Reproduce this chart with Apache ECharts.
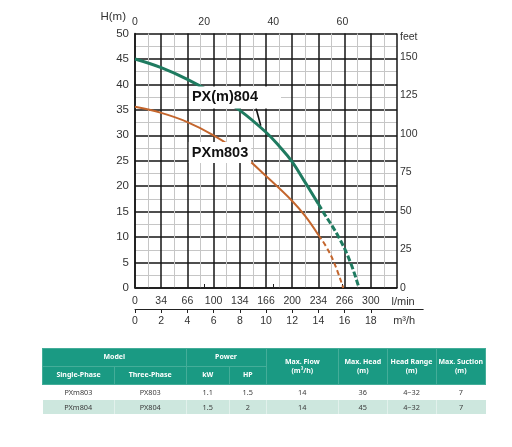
<!DOCTYPE html>
<html><head><meta charset="utf-8">
<script src="https://cdn.jsdelivr.net/npm/echarts@6/dist/echarts.min.js"></script>
<style>
html,body{margin:0;padding:0;background:#fff;width:512px;height:447px;overflow:hidden}
#c{position:absolute;left:0;top:0;width:512px;height:447px}
table{position:absolute;left:42px;top:348px;width:443px;border-collapse:collapse;table-layout:fixed;font-family:'Noto Sans',sans-serif}
th{background:#1a9a83;color:#fff;font-weight:700;font-size:7px;line-height:8.5px;padding:0;border:1px solid #44ad99;text-align:center}
td{font-size:7.3px;color:#3a3a3a;text-align:center;padding:0}
tr.r2 td{background:#cde7de;border-left:1px solid #e2f1ec}
tr.r2 td:first-child{border-left:none}
</style></head>
<body>
<div id="c"></div>
<table>
<colgroup><col style="width:72px"><col style="width:71.5px"><col style="width:43.5px"><col style="width:36.5px"><col style="width:72.5px"><col style="width:48.5px"><col style="width:49px"><col style="width:49.5px"></colgroup>
<tr style="height:18px"><th colspan="2">Model</th><th colspan="2">Power</th><th rowspan="2">Max. Flow<br>(m³/h)</th><th rowspan="2">Max. Head<br>(m)</th><th rowspan="2">Head Range<br>(m)</th><th rowspan="2">Max. Suction<br>(m)</th></tr>
<tr style="height:18px"><th>Single-Phase</th><th>Three-Phase</th><th>kW</th><th>HP</th></tr>
<tr style="height:15px"><td>PXm803</td><td>PX803</td><td>1.1</td><td>1.5</td><td>14</td><td>36</td><td>4~32</td><td>7</td></tr>
<tr class="r2" style="height:14px"><td>PXm804</td><td>PX804</td><td>1.5</td><td>2</td><td>14</td><td>45</td><td>4~32</td><td>7</td></tr>
</table>
<script>
// Flow in m3/h, head in m
const greenSolidQ = [0,2,4,6,8,10,11,12,13,14];
const greenSolidH = [45,43.3,41.0,38.2,34.9,30.6,27.9,24.8,20.7,16.5];
const greenDashQ = [14,14.4,15.55,16.45,17.1];
const greenDashH = [16.5,14.8,10,5,0];
const orangeSolidQ = [0,2,4,6,8,10,12,13,14];
const orangeSolidH = [35.6,34.4,32.6,30.0,26.6,22.0,17.1,14.1,10.4];
const orangeDashQ = [14,14.6,15.2,15.9];
const orangeDashH = [10.4,8.1,5,0];
const lpmLabels = ['0','34','66','100','134','166','200','234','266','300'];
const m3hTicks = [0,2,4,6,8,10,12,14,16,18];
const gpmTicks = [0,20,40,60];
const feetTicks = [0,25,50,75,100,125,150];
const feetUnitAt = 162.5;
const seriesNames = ['PX(m)804','PXm803'];

const pairs = (q,h) => q.map((v,i)=>[v,h[i]]);
const GREEN = '#1f7b60', ORANGE = '#c4662d';
const FONT = 'Liberation Sans';
const lab = {fontFamily:FONT,fontSize:10.5,color:'#333'};
const heavy = {color:'#151515',width:1.5};
const light = {color:'#c6c6c6',width:1};

const chart = echarts.init(document.getElementById('c'));
chart.setOption({
  animation:false,
  backgroundColor:'#fff',
  grid:[
    {left:135,top:33.5,width:262,height:254.5},
    {left:135,top:280,width:288.2,height:29}
  ],
  xAxis:[
    {gridIndex:0,type:'value',position:'bottom',min:0,max:20,interval:2,
     axisLine:{show:true,lineStyle:heavy},axisTick:{show:false},
     minorTick:{show:false,splitNumber:2},
     splitLine:{show:true,lineStyle:heavy},
     minorSplitLine:{show:true,lineStyle:light},
     axisLabel:Object.assign({},lab,{margin:8,formatter:v=>{const i=Math.round(v/2);return (i<lpmLabels.length)?lpmLabels[i]:'';}}),
     name:'l/min',nameLocation:'end',nameGap:-5.5,nameMoveOverlap:false,
     nameTextStyle:{fontFamily:FONT,fontSize:11,color:'#333',align:'left',verticalAlign:'top',padding:[8,0,0,0]}},
    {gridIndex:0,type:'value',position:'top',min:0,max:75.8,interval:20,
     axisLine:{show:false},
     axisTick:{show:true,length:4,lineStyle:{color:'#222',width:1},customValues:gpmTicks},
     splitLine:{show:false},
     axisLabel:Object.assign({},lab,{margin:6,customValues:gpmTicks})},
    {gridIndex:1,type:'value',position:'bottom',min:0,max:22,interval:2,
     axisLine:{show:true,lineStyle:{color:'#222',width:1}},
     axisTick:{show:true,length:4,lineStyle:{color:'#222',width:1},customValues:m3hTicks},
     splitLine:{show:false},
     axisLabel:Object.assign({},lab,{margin:7,customValues:m3hTicks}),
     name:'m³/h',nameLocation:'end',nameGap:-8,nameMoveOverlap:false,
     nameTextStyle:{fontFamily:FONT,fontSize:11,color:'#333',align:'right',verticalAlign:'top',padding:[6,0,0,0]}}
  ],
  yAxis:[
    {gridIndex:0,type:'value',position:'left',min:0,max:50,interval:5,
     axisLine:{show:true,lineStyle:heavy},axisTick:{show:false},
     minorTick:{show:false,splitNumber:2},
     splitLine:{show:true,lineStyle:heavy},
     minorSplitLine:{show:true,lineStyle:light},
     axisLabel:Object.assign({},lab,{fontSize:11.5,margin:6}),
     name:'H(m)',nameLocation:'end',nameGap:17,nameMoveOverlap:false,
     nameTextStyle:{fontFamily:FONT,fontSize:11.5,color:'#333',align:'right',verticalAlign:'middle',padding:[0,9,0,0]}},
    {gridIndex:0,type:'value',position:'right',min:0,max:165,interval:25,
     axisLine:{show:false},axisTick:{show:false},splitLine:{show:false},
     axisLabel:Object.assign({},lab,{margin:3,customValues:feetTicks.concat([feetUnitAt]),padding:[4,0,0,0],
       formatter:v=>v===feetUnitAt?'feet':String(v)})},
    {gridIndex:1,type:'value',show:false,min:0,max:1}
  ],
  series:[
    {name:seriesNames[0],type:'line',xAxisIndex:0,yAxisIndex:0,data:pairs(greenSolidQ,greenSolidH),
     smooth:0.4,showSymbol:false,silent:true,lineStyle:{color:GREEN,width:3},z:3,
     markPoint:{silent:true,symbol:'rect',symbolSize:1,itemStyle:{color:'rgba(0,0,0,0)'},
       label:{show:true,position:'inside',formatter:seriesNames[0],fontFamily:FONT,fontWeight:'bold',fontSize:14.5,color:'#111',
         backgroundColor:'#fff',padding:[4,23,3,3]},
       data:[{coord:[7.63,37.45]}]},
     markLine:{silent:true,symbol:['none','none'],label:{show:false},lineStyle:{color:'#111',width:1.6,type:'solid'},
       data:[[{coord:[9.24,35.3]},{coord:[9.6,31.9]}]]}},
    {name:seriesNames[0]+' dash',type:'line',xAxisIndex:0,yAxisIndex:0,data:pairs(greenDashQ,greenDashH),
     smooth:0.4,showSymbol:false,silent:true,lineStyle:{color:GREEN,width:3,type:[6,2.5]},z:3},
    {name:seriesNames[1],type:'line',xAxisIndex:0,yAxisIndex:0,data:pairs(orangeSolidQ,orangeSolidH),
     smooth:0.4,showSymbol:false,silent:true,lineStyle:{color:ORANGE,width:2},z:3,
     markPoint:{silent:true,symbol:'rect',symbolSize:1,itemStyle:{color:'rgba(0,0,0,0)'},
       label:{show:true,position:'inside',formatter:seriesNames[1],fontFamily:FONT,fontWeight:'bold',fontSize:14.5,color:'#111',
         backgroundColor:'#fff',padding:[3,3,3,3]},
       data:[{coord:[6.49,26.6]}]}},
    {name:seriesNames[1]+' dash',type:'line',xAxisIndex:0,yAxisIndex:0,data:pairs(orangeDashQ,orangeDashH),
     smooth:0.4,showSymbol:false,silent:true,lineStyle:{color:ORANGE,width:2,type:[5,3]},z:3}
  ]
});
</script>
</body></html>
